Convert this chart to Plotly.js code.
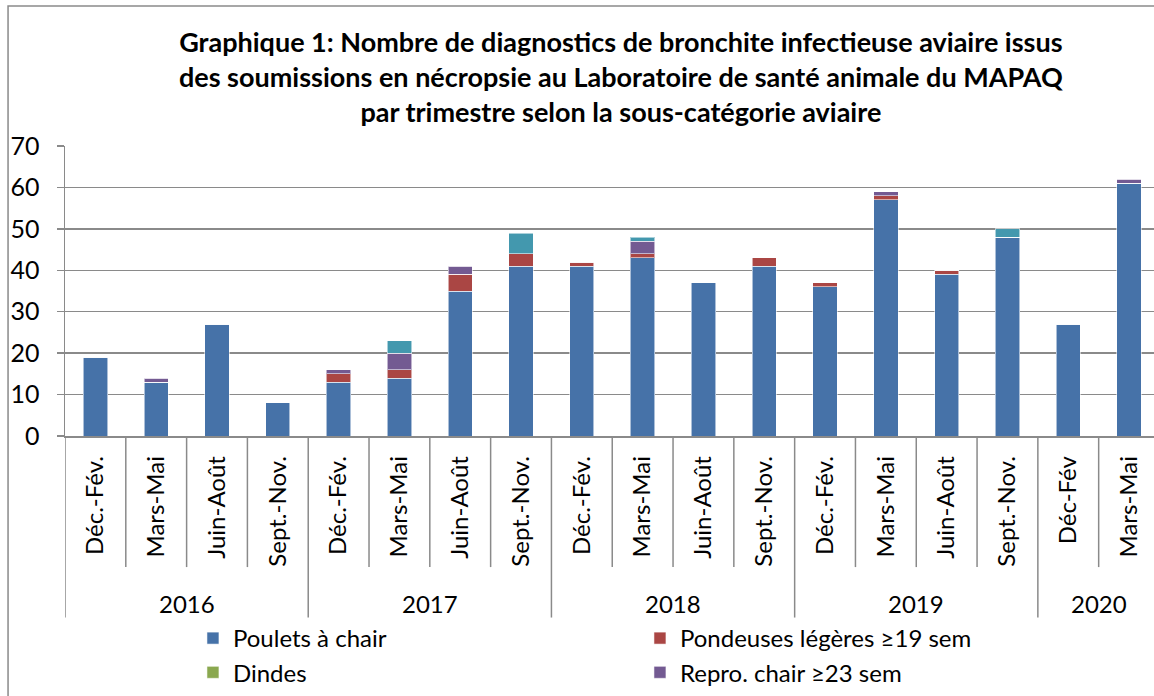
<!DOCTYPE html>
<html>
<head>
<meta charset="utf-8">
<script src="https://cdn.plot.ly/plotly-3.0.1.min.js"></script>
<style>
  body { margin: 0; background: #fff; }
  #plotArea { width: 1154px; height: 696px; }
</style>
</head>
<body>
<div id="plotArea"></div>
<script>
// trimestres et années (une entrée par barre)
var quarters = ["Déc.-Fév.", "Mars-Mai", "Juin-Août", "Sept.-Nov.",
                "Déc.-Fév.", "Mars-Mai", "Juin-Août", "Sept.-Nov.",
                "Déc.-Fév.", "Mars-Mai", "Juin-Août", "Sept.-Nov.",
                "Déc.-Fév.", "Mars-Mai", "Juin-Août", "Sept.-Nov.",
                "Déc-Fév", "Mars-Mai"];
var years = ["2016", "2016", "2016", "2016",
             "2017", "2017", "2017", "2017",
             "2018", "2018", "2018", "2018",
             "2019", "2019", "2019", "2019",
             "2020", "2020"];

// nombre de diagnostics par sous-catégorie
var poulets   = [19, 13, 27, 8, 13, 14, 35, 41, 41, 43, 37, 41, 36, 57, 39, 48, 27, 61];
var pondeuses = [0, 0, 0, 0, 2, 2, 4, 3, 1, 1, 0, 2, 1, 1, 1, 0, 0, 0];
var dindes    = [0, 0, 0, 0, 0, 0, 0, 0, 0, 0, 0, 0, 0, 0, 0, 0, 0, 0];
var repro     = [0, 1, 0, 0, 1, 4, 2, 0, 0, 3, 0, 0, 0, 1, 0, 0, 0, 1];
var autres    = [0, 0, 0, 0, 0, 3, 0, 5, 0, 1, 0, 0, 0, 0, 0, 2, 0, 0];

var fontName = 'Lato, "Open Sans", sans-serif';
var gridGrey = '#8a8a8a';

// clé unique par barre, le libellé affiché reste le trimestre
var keys = quarters.map(function (q, i) { return years[i] + ' ' + q; });

function serie(name, values, color, inLegend) {
  return {
    x: keys,
    y: values,
    type: 'bar',
    name: name,
    showlegend: inLegend,
    marker: { color: color, line: { color: 'rgba(255,255,255,0.55)', width: 1 } },
    hoverinfo: 'y+name'
  };
}

var data = [
  serie('Poulets à chair', poulets, '#4672a8', true),
  serie('Pondeuses légères ≥19 sem', pondeuses, '#aa4644', true),
  serie('Dindes', dindes, '#8aa84f', true),
  serie('Repro. chair ≥23 sem', repro, '#735a92', true),
  serie('Autres', autres, '#4398ae', false)
];

// séparateurs sous l'axe et libellés des années
var shapes = [];
var annotations = [];
keys.forEach(function (k, i) {
  var yearStart = (i === 0 || years[i] !== years[i - 1]);
  shapes.push({
    type: 'line', xref: 'x', yref: 'paper',
    x0: i - 0.5, x1: i - 0.5, y0: 0, y1: yearStart ? -0.626 : -0.452,
    line: { color: gridGrey, width: 1.5 }
  });
});
var uniqueYears = years.filter(function (y, i) { return years.indexOf(y) === i; });
uniqueYears.forEach(function (yr) {
  var first = years.indexOf(yr);
  var last = years.lastIndexOf(yr);
  annotations.push({
    xref: 'x', yref: 'paper', x: (first + last) / 2, y: -0.577,
    text: yr, showarrow: false, yanchor: 'middle',
    font: { family: fontName, size: 24, color: '#000' }
  });
});

// cadre du graphique
shapes.push({
  type: 'rect', xref: 'paper', yref: 'paper',
  x0: -0.0523, x1: 1.2, y0: -1.2, y1: 1.483,
  line: { color: gridGrey, width: 1.5 }, fillcolor: 'rgba(0,0,0,0)'
});

var layout = {
  width: 1154,
  height: 696,
  margin: { l: 65, r: 0, t: 146, b: 260, autoexpand: false },
  paper_bgcolor: '#fff',
  plot_bgcolor: '#fff',
  font: { family: fontName, color: '#000' },
  barmode: 'stack',
  bargap: 0.6,
  title: {
    text: 'Graphique 1: Nombre de diagnostics de bronchite infectieuse aviaire issus<br>' +
          'des soumissions en nécropsie au Laboratoire de santé animale du MAPAQ<br>' +
          'par trimestre selon la sous-catégorie aviaire',
    font: { family: fontName, size: 27, weight: 'bold', color: '#000' },
    xref: 'container', x: 0.538, xanchor: 'center',
    yref: 'container', y: 1 - 52 / 696, yanchor: 'top'
  },
  xaxis: {
    type: 'category',
    categoryorder: 'array',
    categoryarray: keys,
    tickvals: keys,
    ticktext: quarters,
    range: [-0.5, 17.41],
    tickangle: -90,
    ticks: '',
    ticklabelstandoff: 9,
    tickfont: { family: fontName, size: 24, color: '#000' },
    showline: true,
    linecolor: gridGrey,
    linewidth: 1.5,
    showgrid: false,
    fixedrange: true
  },
  yaxis: {
    range: [0, 70],
    dtick: 10,
    tick0: 0,
    showgrid: true,
    gridcolor: gridGrey,
    gridwidth: 1.5,
    showline: true,
    linecolor: gridGrey,
    linewidth: 1.5,
    ticks: 'outside',
    ticklen: 7,
    tickwidth: 1.5,
    tickcolor: gridGrey,
    ticklabelstandoff: 12,
    tickfont: { family: fontName, size: 25, color: '#000' },
    zeroline: false,
    fixedrange: true
  },
  legend: {
    orientation: 'h',
    xref: 'paper', x: 0.1175, xanchor: 'left',
    yref: 'container', y: 1 - 616 / 696, yanchor: 'top',
    entrywidth: 402,
    entrywidthmode: 'pixels',
    traceorder: 'normal',
    font: { family: fontName, size: 24, color: '#000' },
    bgcolor: 'rgba(0,0,0,0)'
  },
  shapes: shapes,
  annotations: annotations,
  showlegend: true
};

Plotly.newPlot('plotArea', data, layout, { displayModeBar: false, staticPlot: true });
</script>
</body>
</html>
